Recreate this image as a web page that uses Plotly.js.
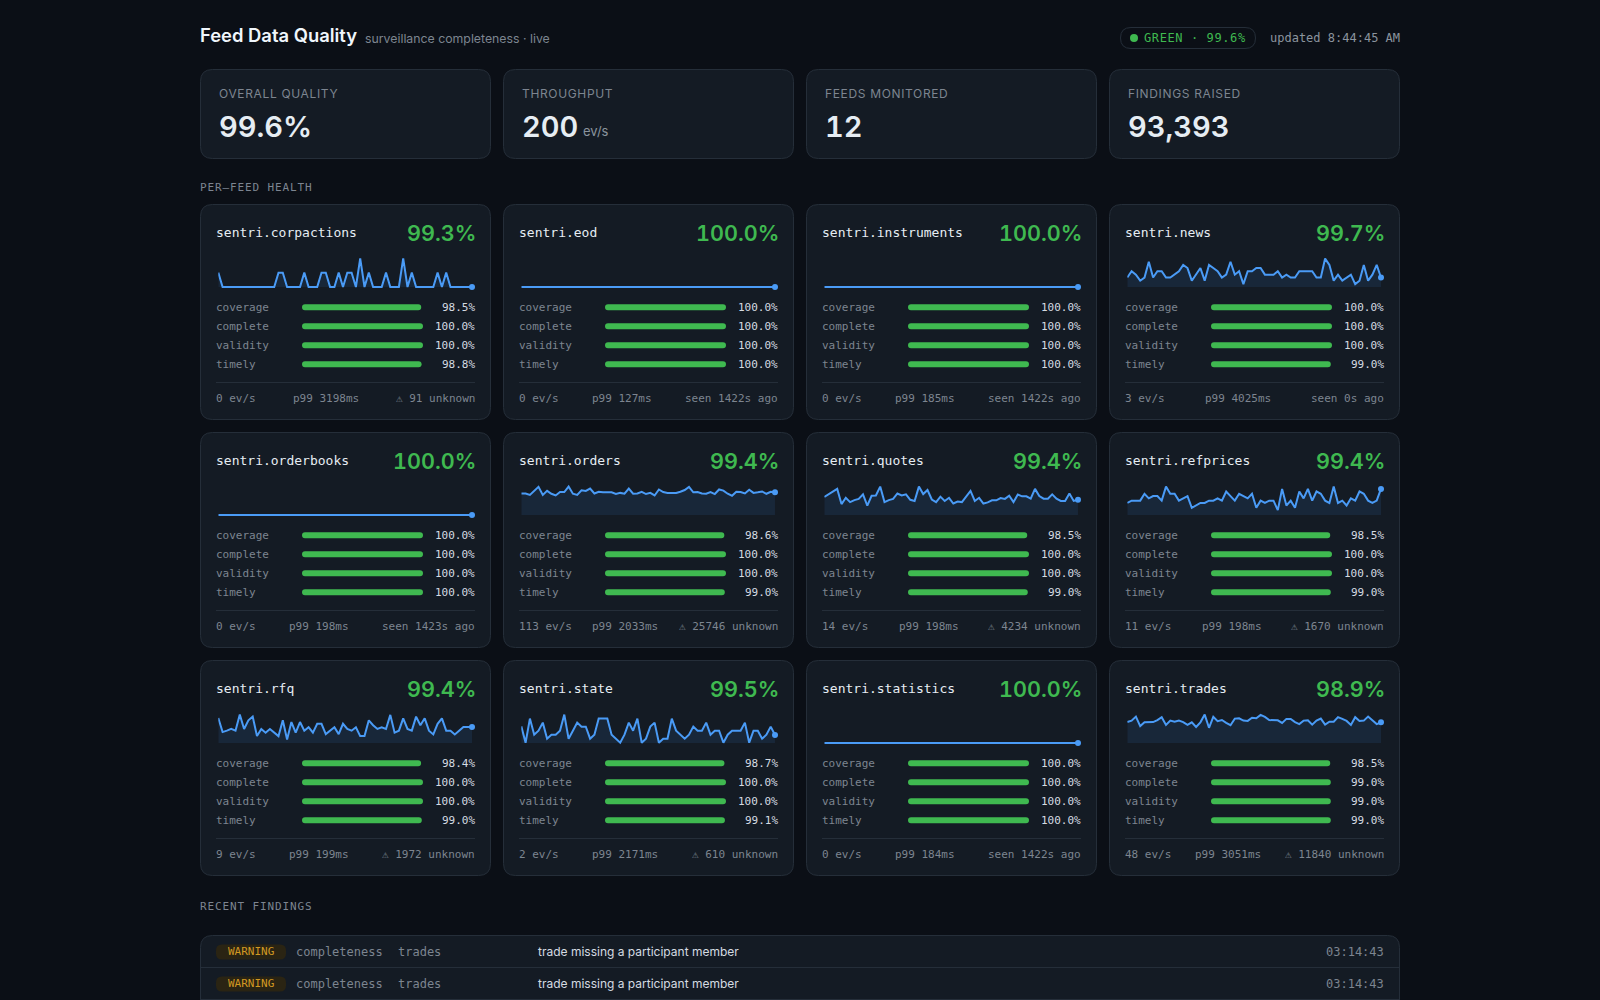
<!DOCTYPE html>
<html><head><meta charset="utf-8"><title>Feed Data Quality</title>
<script src="https://cdn.plot.ly/plotly-3.0.1.min.js"></script>
<style>html,body{margin:0;padding:0;background:#0b0f16;overflow:hidden}#page{width:1600px;height:1000px}</style>
</head><body><div id="page"></div>
<script>
// ---- data -----------------------------------------------------------------
const feedNames = ["sentri.corpactions","sentri.eod","sentri.instruments","sentri.news","sentri.orderbooks","sentri.orders","sentri.quotes","sentri.refprices","sentri.rfq","sentri.state","sentri.statistics","sentri.trades"];
const feedScores = [99.3,100.0,100.0,99.7,100.0,99.4,99.4,99.4,99.4,99.5,100.0,98.9];
const metricNames = ["coverage","complete","validity","timely"];
const coverage = [98.5,100,100,100,100,98.6,98.5,98.5,98.4,98.7,100,98.5];
const complete = [100,100,100,100,100,100,100,100,100,100,100,99];
const validity = [100,100,100,100,100,100,100,100,100,100,100,99];
const timely   = [98.8,100,100,99,100,99,99,99,99,99.1,100,99];
const rates = [0,0,0,3,0,113,14,11,9,2,0,48];
const p99s = [3198,127,185,4025,198,2033,198,198,199,2171,184,3051];
const lastNotes = ["⚠ 91 unknown","seen 1422s ago","seen 1422s ago","seen 0s ago","seen 1423s ago","⚠ 25746 unknown","⚠ 4234 unknown","⚠ 1670 unknown","⚠ 1972 unknown","⚠ 610 unknown","seen 1422s ago","⚠ 11840 unknown"];

const sparkCorpactions = [50,0,0,0,0,0,0,0,0,0,0,0,0,0,50,50,0,0,0,0,50,0,0,0,50,50,0,0,50,0,50,50,0,100,0,50,0,0,0,50,0,0,0,100,0,50,0,0,0,0,0,50,0,50,0,0,0,0,0,0];
const sparkEod = [0,0,0,0,0,0,0,0,0,0,0,0,0,0,0,0,0,0,0,0,0,0,0,0,0,0,0,0,0,0,0,0,0,0,0,0,0,0,0,0,0,0,0,0,0,0,0,0,0,0,0,0,0,0,0,0,0,0,0,0];
const sparkInstruments = [0,0,0,0,0,0,0,0,0,0,0,0,0,0,0,0,0,0,0,0,0,0,0,0,0,0,0,0,0,0,0,0,0,0,0,0,0,0,0,0,0,0,0,0,0,0,0,0,0,0,0,0,0,0,0,0,0,0,0,0];
const sparkNews = [33,55,43,22,33,88,33,55,55,33,33,43,55,77,66,22,43,66,22,77,66,55,33,43,88,43,55,10,55,55,66,66,43,43,43,55,33,43,33,33,55,55,55,55,33,33,99,77,22,43,22,33,43,10,22,77,22,43,77,33];
const sparkOrderbooks = [0,0,0,0,0,0,0,0,0,0,0,0,0,0,0,0,0,0,0,0,0,0,0,0,0,0,0,0,0,0,0,0,0,0,0,0,0,0,0,0,0,0,0,0,0,0,0,0,0,0,0,0,0,0,0,0,0,0,0,0];
const sparkOrders = [75,75,70,84,98,70,84,74,68,80,80,99,74,70,86,84,92,75,81,79,79,79,73,77,74,92,74,75,81,73,77,68,89,80,77,77,77,81,87,98,79,80,75,74,80,73,89,85,74,67,81,80,75,88,77,79,82,74,81,79];
const sparkQuotes = [63,72,82,91,38,60,45,52,56,72,33,67,68,99,45,52,56,75,68,72,53,49,99,73,87,54,45,64,49,60,40,47,45,65,84,49,60,40,44,51,51,59,56,67,45,71,65,65,57,91,66,57,57,72,57,49,49,75,49,53];
const sparkRefprices = [42,50,50,50,74,58,66,66,50,99,74,74,50,58,66,25,33,42,42,50,50,58,50,82,66,50,74,66,58,74,25,50,42,50,50,17,91,33,50,25,82,58,91,50,82,74,50,42,99,42,50,33,58,50,82,74,50,42,50,91];
const sparkRfq = [87,38,43,49,43,99,49,79,92,24,49,36,49,36,24,79,12,73,36,73,43,55,36,67,67,31,43,55,31,67,49,43,55,24,24,79,62,49,55,49,98,36,43,86,49,43,92,62,86,43,30,67,86,43,43,30,43,56,56,56];
const sparkState = [58,1,85,29,43,71,15,29,29,43,99,15,43,71,57,57,15,29,85,85,85,29,15,1,29,71,43,85,1,15,57,71,1,15,15,85,43,29,15,29,57,43,43,71,29,43,43,1,29,43,43,43,71,1,43,43,15,29,57,28];
const sparkStatistics = [0,0,0,0,0,0,0,0,0,0,0,0,0,0,0,0,0,0,0,0,0,0,0,0,0,0,0,0,0,0,0,0,0,0,0,0,0,0,0,0,0,0,0,0,0,0,0,0,0,0,0,0,0,0,0,0,0,0,0,0];
const sparkTrades = [73,78,92,59,72,73,73,80,90,63,78,74,78,73,63,72,56,72,99,53,91,76,80,70,62,85,86,78,77,88,86,98,91,80,80,79,70,84,84,73,66,78,79,64,78,85,64,74,74,90,84,77,63,90,77,78,92,78,66,72];
const sparks = [sparkCorpactions,sparkEod,sparkInstruments,sparkNews,sparkOrderbooks,sparkOrders,sparkQuotes,sparkRefprices,sparkRfq,sparkState,sparkStatistics,sparkTrades];

const kpiLabels = ["OVERALL QUALITY","THROUGHPUT","FEEDS MONITORED","FINDINGS RAISED"];
const kpiValues = ["99.6%","200","12","93,393"];
const findingSeverity = ["WARNING","WARNING"];
const findingCheck = ["completeness","completeness"];
const findingFeed = ["trades","trades"];
const findingText = ["trade missing a participant member","trade missing a participant member"];
const findingTime = ["03:14:43","03:14:43"];

// ---- style ----------------------------------------------------------------
const BG="#0b0f16", CARD="#141b24", EDGE="#252e39", GREEN="#3fb950", BLUE="#4a9bf6", AMBER="#d29922";
const MUTED="#7d8590", SOFT="#8b949e", BRIGHT="#d5dbe2", NAME="#e6edf3", WHITE="#f0f6fc", KPI="#e6edf3";
const MONO='"DejaVu Sans Mono", monospace', SANS='Inter, sans-serif';
const W=1600, H=1000;
const fx=x=>x/W, fy=y=>1-y/H;
const shapes=[], annotations=[], traces=[], layout={};

function roundRect(x0,y0,x1,y1,r,fill,line){
  const X=fx, Y=fy;
  const path=`M ${X(x0+r)} ${Y(y0)} L ${X(x1-r)} ${Y(y0)} Q ${X(x1)} ${Y(y0)} ${X(x1)} ${Y(y0+r)} L ${X(x1)} ${Y(y1-r)} Q ${X(x1)} ${Y(y1)} ${X(x1-r)} ${Y(y1)} L ${X(x0+r)} ${Y(y1)} Q ${X(x0)} ${Y(y1)} ${X(x0)} ${Y(y1-r)} L ${X(x0)} ${Y(y0+r)} Q ${X(x0)} ${Y(y0)} ${X(x0+r)} ${Y(y0)} Z`;
  shapes.push({type:"path",xref:"paper",yref:"paper",path,fillcolor:fill,line:{color:line||fill,width:line?1:0},layer:"below"});
}
function hline(x0,x1,y,color){shapes.push({type:"line",xref:"paper",yref:"paper",x0:fx(x0),x1:fx(x1),y0:fy(y),y1:fy(y),line:{color,width:1},layer:"below"});}
function label(text,x,y,o){
  o=o||{};
  let css=[];
  if(o.spacing) css.push(`letter-spacing:${o.spacing}px`);
  if(o.tnum) css.push(`font-variant-numeric:tabular-nums`);
  const spaced=css.length?`<span style="${css.join(";")}">${text}</span>`:text;
  annotations.push({text:spaced,xref:"paper",yref:"paper",x:fx(x),y:fy(y),xanchor:o.anchor||"left",yanchor:"middle",
    showarrow:false,borderpad:0,borderwidth:0,align:o.anchor||"left",
    font:{family:o.family||MONO,size:o.size||11,color:o.color||MUTED,weight:o.weight||400}});
}

// ---- header ---------------------------------------------------------------
label("Feed Data Quality",200,35,{family:SANS,size:18.4,weight:600,color:WHITE});
label("surveillance completeness · live",365,38,{family:SANS,size:12.3,color:MUTED});
roundRect(1120.5,27.5,1255.5,48.5,10.5,BG,EDGE);
shapes.push({type:"circle",xref:"paper",yref:"paper",x0:fx(1130),x1:fx(1138),y0:fy(42),y1:fy(34),fillcolor:GREEN,line:{width:0},layer:"below"});
label("GREEN · 99.6%",1143.5,38,{size:12,color:GREEN,spacing:0.6});
label("updated 8:44:45 AM",1400,38,{size:12,color:SOFT,anchor:"right"});

// ---- KPI cards ------------------------------------------------------------
const colX=[200,503,806,1109];
kpiLabels.forEach((t,i)=>{
  roundRect(colX[i]+.5,69.5,colX[i]+290.5,158.5,12,CARD,EDGE);
  label(t,colX[i]+19,93.5,{family:SANS,size:12,color:MUTED,spacing:0.65});
  label(kpiValues[i],colX[i]+19,126,{family:SANS,size:29,weight:600,color:KPI,tnum:true});
});
label("ev/s",582.5,130.5,{family:SANS,size:13,color:SOFT});

label("PER—FEED HEALTH",200,187,{size:11,color:MUTED,spacing:0.88});
label("RECENT FINDINGS",200,906,{size:11,color:MUTED,spacing:0.88});

// ---- feed cards -----------------------------------------------------------
const rowY=[204,432,660];
const metricSeries=[coverage,complete,validity,timely];
const CW=6.62;
feedNames.forEach((name,i)=>{
  const cx=colX[i%4], cy=rowY[Math.floor(i/4)];
  roundRect(cx+.5,cy+.5,cx+290.5,cy+215.5,12,CARD,EDGE);
  label(name,cx+16,cy+28.5,{size:13,color:NAME});
  label(feedScores[i].toFixed(1)+"%",cx+275.5,cy+28.5,{family:SANS,size:21.6,weight:600,color:GREEN,anchor:"right",tnum:true});

  // sparkline: the axis runs a little past 0 and 100 so the stroke is never clipped
  const sx=2*i+1, bx=2*i+2;
  const sid=sx===1?"":sx, bid=bx;
  const xs=sparks[i].map((_,k)=>k);
  layout["xaxis"+sid]={domain:[fx(cx+18.3),fx(cx+272)],range:[0,sparks[i].length-1],visible:false,fixedrange:true,anchor:"y"+sid};
  layout["yaxis"+sid]={domain:[fy(cy+85.87),fy(cy+51.43)],range:[-10,110],visible:false,fixedrange:true,anchor:"x"+sid};
  traces.push({type:"scatter",mode:"lines",x:xs,y:sparks[i],xaxis:"x"+sid,yaxis:"y"+sid,fill:"tozeroy",fillcolor:"rgba(68,147,248,0.10)",
    line:{color:BLUE,width:2,shape:"linear"},cliponaxis:false,hoverinfo:"skip"});
  traces.push({type:"scatter",mode:"markers",x:xs.slice(-1),y:sparks[i].slice(-1),xaxis:"x"+sid,yaxis:"y"+sid,
    marker:{color:BLUE,size:6,line:{width:0}},cliponaxis:false,hoverinfo:"skip"});

  // metric bars; each bar has a short negative stub so its left end is rounded too
  const vals=metricSeries.map(s=>s[i]);
  const STUB=-2.54;
  layout["xaxis"+bid]={domain:[fx(cx+102),fx(cx+223)],range:[STUB,100],visible:false,fixedrange:true,anchor:"y"+bid};
  layout["yaxis"+bid]={domain:[fy(cy+169.8),fy(cy+93.8)],range:[3.5,-0.5],type:"linear",visible:false,fixedrange:true,anchor:"x"+bid};
  traces.push({type:"bar",orientation:"h",x:vals,y:[0,1,2,3],width:0.316,marker:{color:GREEN,line:{width:0}},xaxis:"x"+bid,yaxis:"y"+bid,hoverinfo:"skip"});
  traces.push({type:"bar",orientation:"h",x:vals.map(()=>STUB),y:[0,1,2,3],width:0.316,marker:{color:GREEN,line:{width:0}},xaxis:"x"+bid,yaxis:"y"+bid,hoverinfo:"skip"});
  metricNames.forEach((m,k)=>{
    label(m,cx+16,cy+103.3+19*k,{size:11,color:MUTED});
    label(vals[k].toFixed(1)+"%",cx+275,cy+103.3+19*k,{size:11,color:BRIGHT,anchor:"right"});
  });

  // footer
  hline(cx+16,cx+275,cy+178.5,"#252e39");
  const left=rates[i]+" ev/s", mid="p99 "+p99s[i]+"ms", right=lastNotes[i];
  const gap=(259-CW*(left.length+mid.length+right.length))/2;
  label(left,cx+16,cy+194.3,{size:11,color:MUTED});
  label(mid,cx+16+CW*left.length+gap,cy+194.3,{size:11,color:MUTED});
  label(right,cx+275,cy+194.3,{size:11,color:MUTED,anchor:"right"});
});

// ---- findings -------------------------------------------------------------
roundRect(200.5,935.5,1399.5,1040,12,CARD,EDGE);
findingSeverity.forEach((s,k)=>{
  const y=952+32*k;
  roundRect(216,y-7.5,286,y+7.5,6,"#2a2413");
  label(s,251,y-.5,{size:11,color:AMBER,anchor:"center"});
  label(findingCheck[k],295.5,y,{size:12,color:MUTED});
  label(findingFeed[k],397.5,y,{size:12,color:MUTED});
  label(findingText[k],538,y-.5,{family:SANS,size:12,color:BRIGHT});
  label(findingTime[k],1384,y,{size:12,color:MUTED,anchor:"right"});
  hline(201,1399,y+15.5,"#252e39");
});

Object.assign(layout,{width:W,height:H,margin:{l:0,r:0,t:0,b:0,pad:0},paper_bgcolor:BG,plot_bgcolor:"rgba(0,0,0,0)",
  showlegend:false,hovermode:false,barmode:"overlay",barcornerradius:3,shapes,annotations,font:{family:SANS}});
Plotly.newPlot("page",traces,layout,{displayModeBar:false,staticPlot:true,responsive:false});
</script></body></html>
